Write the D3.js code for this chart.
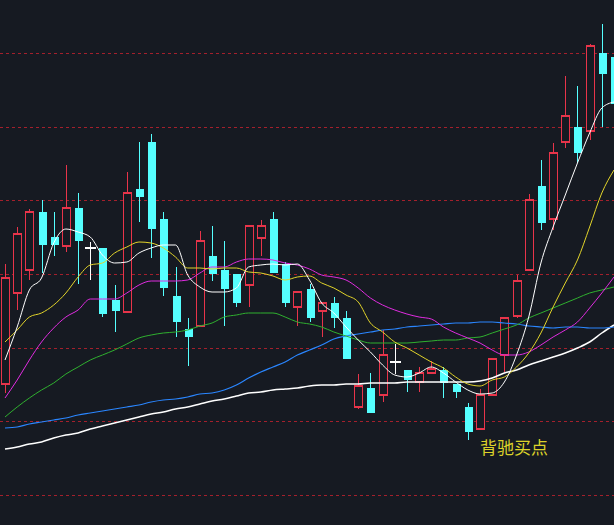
<!DOCTYPE html>
<html><head><meta charset="utf-8">
<script src="https://cdn.jsdelivr.net/npm/d3@7"></script>
<style>html,body{margin:0;padding:0;background:#161a22;overflow:hidden}</style>
</head><body><svg id="c" width="614" height="525"></svg>
<script>
const openP  = [21.6,30.7,33.0,38.8,36.3,35.4,39.2,35.2,35.2,30.0,28.8,41.1,45.8,38.1,30.4,27.1,27.4,34.4,33.0,32.6,31.5,36.2,38.1,33.6,29.3,31.1,28.9,29.7,28.2,19.3,21.2,20.5,23.8,23.0,21.8,22.7,23.0,21.6,19.3,17.1,20.5,24.5,28.4,33.0,41.4,38.1,45.8,47.3,46.9,54.7,54.3];
const highP  = [33.6,37.3,39.1,40.0,38.8,43.5,40.7,35.8,35.2,31.5,42.8,45.8,46.6,38.8,33.3,28.2,36.9,37.4,35.9,32.6,37.4,38.0,38.8,33.8,30.8,31.6,29.7,30.3,28.9,22.6,22.7,27.0,25.6,23.0,23.3,23.9,23.3,21.6,19.7,21.1,24.1,28.2,32.5,40.6,44.0,45.7,52.4,51.4,55.6,57.6,55.0];
const lowP   = [20.7,29.0,32.0,32.7,34.4,34.8,31.6,32.0,28.3,26.8,28.8,37.8,34.2,30.4,26.3,23.4,27.4,31.9,27.4,29.3,29.3,34.4,32.7,29.3,27.4,27.8,26.3,27.2,24.1,19.1,18.7,19.8,22.6,20.8,20.8,22.7,20.2,20.2,16.0,17.1,20.5,22.8,28.2,33.0,37.0,37.0,45.2,43.7,46.0,47.3,49.0];
const closeP = [32.2,36.6,38.8,35.5,35.5,39.2,35.9,35.2,28.6,28.9,40.7,40.3,37.1,31.2,27.8,26.3,35.9,32.6,31.1,29.7,37.4,37.4,32.7,29.7,30.8,28.2,29.7,28.2,24.1,21.4,18.7,24.5,23.8,22.0,22.7,23.1,21.7,20.8,16.8,20.5,24.1,28.2,31.9,40.0,37.7,44.7,48.4,44.7,55.4,52.6,49.6];
const ma5   = [24.0,27.3,31.0,32.2,35.7,37.1,36.8,36.3,34.5,33.7,33.8,34.7,35.2,35.5,35.5,32.5,31.3,30.8,30.8,31.2,33.3,33.5,33.6,33.5,33.6,32.0,29.7,28.7,27.3,26.0,24.8,23.5,22.5,22.3,22.7,23.3,22.7,21.8,21.0,20.6,20.7,21.8,24.5,28.3,33.7,37.3,40.5,43.7,46.7,49.2,49.8];
const ma10  = [25.8,27.0,28.3,28.7,29.5,30.7,32.3,33.5,33.7,34.7,35.3,35.8,35.7,35.2,34.3,33.2,33.2,33.1,33.2,33.2,32.8,32.7,32.4,32.0,32.3,32.4,31.7,31.2,30.5,29.8,27.7,26.8,25.8,25.2,24.5,23.8,23.2,22.3,21.6,21.4,22.0,22.3,23.3,24.7,26.7,29.3,31.7,34.0,37.3,40.7,43.0];
const ma20  = [20.2,22.0,24.0,25.8,27.2,28.3,29.0,30.1,30.1,30.1,30.7,31.5,31.9,31.9,31.9,32.0,32.7,33.3,33.3,33.8,34.1,34.1,34.0,33.7,33.5,33.1,32.5,32.3,32.0,31.2,30.2,29.5,29.0,28.6,28.3,28.1,27.3,26.7,26.2,25.7,25.0,24.5,24.5,24.8,25.5,26.3,27.0,27.8,29.2,30.7,32.3];
const ma30  = [18.3,19.3,20.2,21.0,21.7,22.6,23.3,24.0,24.5,25.0,25.6,26.2,26.5,26.7,26.8,27.0,27.4,27.7,28.3,28.5,28.7,28.7,28.7,28.3,27.8,27.6,27.3,26.8,26.4,26.0,25.7,25.7,25.7,25.7,25.8,25.9,26.0,26.0,26.2,26.3,26.7,27.1,27.5,28.2,28.7,29.2,29.7,30.2,30.7,31.0,31.3];
const ma60  = [17.2,17.3,17.6,17.8,18.0,18.2,18.5,18.7,18.9,19.1,19.3,19.5,19.8,20.0,20.1,20.3,20.6,20.7,21.0,21.5,22.2,22.8,23.3,23.8,24.5,25.0,25.5,26.1,26.4,26.6,26.8,27.0,27.1,27.3,27.4,27.5,27.6,27.7,27.7,27.8,27.8,27.7,27.6,27.4,27.3,27.2,27.3,27.3,27.2,27.2,27.3];
const ma120 = [15.1,15.3,15.6,15.8,16.2,16.5,16.7,17.1,17.4,17.7,18.0,18.3,18.6,18.8,19.1,19.3,19.6,19.9,20.1,20.4,20.7,20.8,21.0,21.1,21.2,21.4,21.5,21.5,21.6,21.6,21.7,21.7,21.7,21.8,21.8,21.8,21.8,21.8,21.8,21.9,22.2,22.7,23.0,23.5,23.9,24.3,24.7,25.2,25.8,26.7,27.5];
const gridTicks = [54.7,47.3,40.0,32.6,25.2,17.9,10.5];
const annotation = "背驰买点";
const annotationAt = {day: 39, price: 14.6};

const days = d3.range(openP.length);
const svg = d3.select("#c");
const x = d3.scalePoint().domain(days).range([5, 614]);
const y = d3.scaleLinear().domain([60, 7.5]).range([0, 525]);

svg.append("g").attr("shape-rendering","crispEdges").selectAll("line").data(gridTicks).join("line")
  .attr("x1",0).attr("x2",614).attr("y1",d=>Math.round(y(d))+0.5).attr("y2",d=>Math.round(y(d))+0.5)
  .attr("stroke","#a3202c").attr("stroke-dasharray","3,3").attr("stroke-width",1);

const candles = days.map(i=>({i,o:openP[i],h:highP[i],l:lowP[i],c:closeP[i]}));
const col = d => d.c>d.o ? "#e8344a" : (d.c<d.o ? "#55ffff" : "#ffffff");
const bw = 8;
const g = svg.append("g").attr("shape-rendering","crispEdges");
g.selectAll("line.w").data(candles).join("line").attr("class","w")
  .attr("x1",d=>Math.round(x(d.i))+0.5).attr("x2",d=>Math.round(x(d.i))+0.5)
  .attr("y1",d=>y(d.h)).attr("y2",d=>y(d.l)).attr("stroke",col).attr("stroke-width",1);
g.selectAll("rect").data(candles).join("rect")
  .attr("x",d=>Math.round(x(d.i))-bw/2+0.5).attr("width",bw)
  .attr("y",d=>y(Math.max(d.o,d.c))).attr("height",d=>Math.max(1,Math.abs(y(d.o)-y(d.c))))
  .attr("fill",d=>d.c>d.o?"#161a22":col(d)).attr("stroke",col).attr("stroke-width",d=>d.c>d.o?1.5:0);
g.selectAll("line.dj").data(candles.filter(d=>d.c===d.o)).join("line").attr("class","dj")
  .attr("x1",d=>x(d.i)-5).attr("x2",d=>x(d.i)+6).attr("y1",d=>y(d.o)).attr("y2",d=>y(d.o))
  .attr("stroke","#fff").attr("stroke-width",1.3);

const series = [
  {v:ma120,c:"#ffffff",w:1.5},{v:ma60,c:"#2a86ff",w:1.2},{v:ma30,c:"#2fb02f",w:1},
  {v:ma20,c:"#e02ce0",w:1},{v:ma10,c:"#e2d42a",w:1},{v:ma5,c:"#ffffff",w:1}];
const line = d3.line().x((d,i)=>x(i)).y(d=>y(d)).curve(d3.curveMonotoneX);
svg.append("g").selectAll("path").data(series).join("path")
  .attr("d",d=>line(d.v)).attr("fill","none").attr("stroke",d=>d.c).attr("stroke-width",d=>d.w);

svg.append("text").attr("x",x(annotationAt.day)).attr("y",y(annotationAt.price))
  .attr("fill","#dcd22a").attr("font-size",17).attr("font-family","Noto Sans CJK SC")
  .text(annotation);
</script></body></html>
